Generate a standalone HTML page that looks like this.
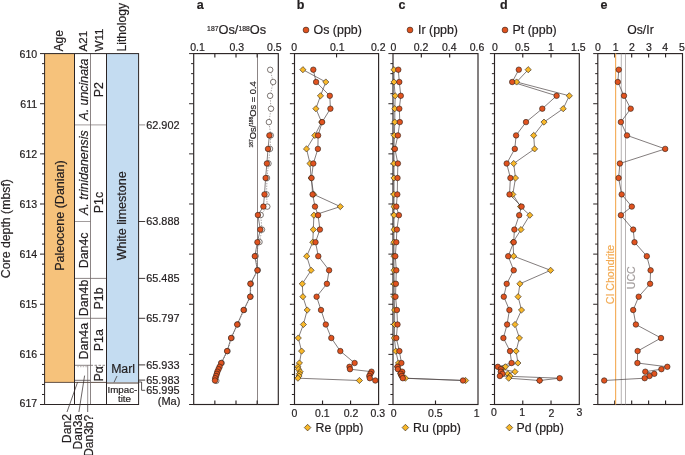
<!DOCTYPE html>
<html><head><meta charset="utf-8"><style>
html,body{margin:0;padding:0;background:#fff;}
svg{display:block;font-family:"Liberation Sans", sans-serif;will-change:transform;}
</style></head><body>
<svg width="685" height="455" viewBox="0 0 685 455">
<rect width="685" height="455" fill="#fff"/>
<rect x="44.6" y="53.6" width="29.9" height="328.79999999999995" fill="#f6c27b"/>
<rect x="106.5" y="53.6" width="32.099999999999994" height="328.79999999999995" fill="#c4dcf1"/>
<line x1="74.50" y1="124.90" x2="106.50" y2="124.90" stroke="#8a8484" stroke-width="0.8" />
<line x1="74.50" y1="221.50" x2="90.50" y2="221.50" stroke="#8a8484" stroke-width="0.8" />
<line x1="74.50" y1="278.40" x2="106.50" y2="278.40" stroke="#6e6666" stroke-width="0.8" />
<line x1="74.50" y1="318.30" x2="106.50" y2="318.30" stroke="#6e6666" stroke-width="0.8" />
<line x1="74.50" y1="365.30" x2="90.50" y2="365.30" stroke="#6e6666" stroke-width="0.8" />
<line x1="90.50" y1="365.30" x2="106.50" y2="365.30" stroke="#6e6666" stroke-width="0.8" stroke-dasharray="2.5,1.5"/>
<line x1="77.30" y1="366.70" x2="86.80" y2="366.70" stroke="#a8a2a2" stroke-width="0.8" stroke-dasharray="1.5,1.2"/>
<line x1="87.70" y1="365.30" x2="87.70" y2="404.50" stroke="#6e6666" stroke-width="0.7" />
<line x1="74.50" y1="380.30" x2="90.50" y2="380.30" stroke="#5a5050" stroke-width="0.85" />
<line x1="44.60" y1="382.40" x2="106.50" y2="382.40" stroke="#5a4a40" stroke-width="0.95" />
<line x1="106.50" y1="383.00" x2="138.60" y2="383.00" stroke="#857a74" stroke-width="1.4" />
<line x1="74.50" y1="53.60" x2="74.50" y2="404.50" stroke="#2b2424" stroke-width="1" />
<line x1="90.50" y1="53.60" x2="90.50" y2="404.50" stroke="#6e6666" stroke-width="0.8" />
<line x1="106.50" y1="53.60" x2="106.50" y2="404.50" stroke="#2b2424" stroke-width="1" />
<rect x="44.6" y="53.6" width="94.0" height="350.9" fill="none" stroke="#2b2424" stroke-width="1"/>
<line x1="84.60" y1="375.60" x2="78.90" y2="412.00" stroke="#3a3232" stroke-width="0.75" />
<line x1="77.60" y1="382.10" x2="67.00" y2="412.00" stroke="#3a3232" stroke-width="0.75" />
<line x1="87.70" y1="404.50" x2="87.70" y2="412.00" stroke="#3a3232" stroke-width="0.75" />
<line x1="114.00" y1="382.40" x2="117.00" y2="376.00" stroke="#3a3232" stroke-width="0.75" />
<line x1="40.00" y1="53.60" x2="44.60" y2="53.60" stroke="#2b2424" stroke-width="1" />
<line x1="42.00" y1="63.63" x2="44.60" y2="63.63" stroke="#2b2424" stroke-width="1" />
<line x1="42.00" y1="73.65" x2="44.60" y2="73.65" stroke="#2b2424" stroke-width="1" />
<line x1="42.00" y1="83.68" x2="44.60" y2="83.68" stroke="#2b2424" stroke-width="1" />
<line x1="42.00" y1="93.70" x2="44.60" y2="93.70" stroke="#2b2424" stroke-width="1" />
<line x1="40.00" y1="103.73" x2="44.60" y2="103.73" stroke="#2b2424" stroke-width="1" />
<line x1="42.00" y1="113.76" x2="44.60" y2="113.76" stroke="#2b2424" stroke-width="1" />
<line x1="42.00" y1="123.78" x2="44.60" y2="123.78" stroke="#2b2424" stroke-width="1" />
<line x1="42.00" y1="133.81" x2="44.60" y2="133.81" stroke="#2b2424" stroke-width="1" />
<line x1="42.00" y1="143.83" x2="44.60" y2="143.83" stroke="#2b2424" stroke-width="1" />
<line x1="40.00" y1="153.86" x2="44.60" y2="153.86" stroke="#2b2424" stroke-width="1" />
<line x1="42.00" y1="163.89" x2="44.60" y2="163.89" stroke="#2b2424" stroke-width="1" />
<line x1="42.00" y1="173.91" x2="44.60" y2="173.91" stroke="#2b2424" stroke-width="1" />
<line x1="42.00" y1="183.94" x2="44.60" y2="183.94" stroke="#2b2424" stroke-width="1" />
<line x1="42.00" y1="193.96" x2="44.60" y2="193.96" stroke="#2b2424" stroke-width="1" />
<line x1="40.00" y1="203.99" x2="44.60" y2="203.99" stroke="#2b2424" stroke-width="1" />
<line x1="42.00" y1="214.02" x2="44.60" y2="214.02" stroke="#2b2424" stroke-width="1" />
<line x1="42.00" y1="224.04" x2="44.60" y2="224.04" stroke="#2b2424" stroke-width="1" />
<line x1="42.00" y1="234.07" x2="44.60" y2="234.07" stroke="#2b2424" stroke-width="1" />
<line x1="42.00" y1="244.09" x2="44.60" y2="244.09" stroke="#2b2424" stroke-width="1" />
<line x1="40.00" y1="254.12" x2="44.60" y2="254.12" stroke="#2b2424" stroke-width="1" />
<line x1="42.00" y1="264.15" x2="44.60" y2="264.15" stroke="#2b2424" stroke-width="1" />
<line x1="42.00" y1="274.17" x2="44.60" y2="274.17" stroke="#2b2424" stroke-width="1" />
<line x1="42.00" y1="284.20" x2="44.60" y2="284.20" stroke="#2b2424" stroke-width="1" />
<line x1="42.00" y1="294.22" x2="44.60" y2="294.22" stroke="#2b2424" stroke-width="1" />
<line x1="40.00" y1="304.25" x2="44.60" y2="304.25" stroke="#2b2424" stroke-width="1" />
<line x1="42.00" y1="314.28" x2="44.60" y2="314.28" stroke="#2b2424" stroke-width="1" />
<line x1="42.00" y1="324.30" x2="44.60" y2="324.30" stroke="#2b2424" stroke-width="1" />
<line x1="42.00" y1="334.33" x2="44.60" y2="334.33" stroke="#2b2424" stroke-width="1" />
<line x1="42.00" y1="344.35" x2="44.60" y2="344.35" stroke="#2b2424" stroke-width="1" />
<line x1="40.00" y1="354.38" x2="44.60" y2="354.38" stroke="#2b2424" stroke-width="1" />
<line x1="42.00" y1="364.41" x2="44.60" y2="364.41" stroke="#2b2424" stroke-width="1" />
<line x1="42.00" y1="374.43" x2="44.60" y2="374.43" stroke="#2b2424" stroke-width="1" />
<line x1="42.00" y1="384.46" x2="44.60" y2="384.46" stroke="#2b2424" stroke-width="1" />
<line x1="42.00" y1="394.48" x2="44.60" y2="394.48" stroke="#2b2424" stroke-width="1" />
<line x1="40.00" y1="404.51" x2="44.60" y2="404.51" stroke="#2b2424" stroke-width="1" />
<text x="37.20" y="57.50" font-size="10.6" text-anchor="end" fill="#231f20" stroke="#231f20" stroke-width="0.2" font-weight="normal" font-style="normal" >610</text>
<text x="37.20" y="107.63" font-size="10.6" text-anchor="end" fill="#231f20" stroke="#231f20" stroke-width="0.2" font-weight="normal" font-style="normal" >611</text>
<text x="37.20" y="157.76" font-size="10.6" text-anchor="end" fill="#231f20" stroke="#231f20" stroke-width="0.2" font-weight="normal" font-style="normal" >612</text>
<text x="37.20" y="207.89" font-size="10.6" text-anchor="end" fill="#231f20" stroke="#231f20" stroke-width="0.2" font-weight="normal" font-style="normal" >613</text>
<text x="37.20" y="258.02" font-size="10.6" text-anchor="end" fill="#231f20" stroke="#231f20" stroke-width="0.2" font-weight="normal" font-style="normal" >614</text>
<text x="37.20" y="308.15" font-size="10.6" text-anchor="end" fill="#231f20" stroke="#231f20" stroke-width="0.2" font-weight="normal" font-style="normal" >615</text>
<text x="37.20" y="358.28" font-size="10.6" text-anchor="end" fill="#231f20" stroke="#231f20" stroke-width="0.2" font-weight="normal" font-style="normal" >616</text>
<text x="37.20" y="406.71" font-size="10.6" text-anchor="end" fill="#231f20" stroke="#231f20" stroke-width="0.2" font-weight="normal" font-style="normal" >617</text>
<text transform="translate(10.40,228.60) rotate(-90)" font-size="12.3" text-anchor="middle" fill="#231f20" stroke="#231f20" stroke-width="0.2" font-weight="normal" font-style="normal" >Core depth (mbsf)</text>
<text transform="translate(63.00,51.50) rotate(-90)" font-size="12.0" text-anchor="start" fill="#231f20" stroke="#231f20" stroke-width="0.2" font-weight="normal" font-style="normal" >Age</text>
<text transform="translate(87.30,51.50) rotate(-90)" font-size="11.6" text-anchor="start" fill="#231f20" stroke="#231f20" stroke-width="0.2" font-weight="normal" font-style="normal" >A21</text>
<text transform="translate(103.10,51.50) rotate(-90)" font-size="11.6" text-anchor="start" fill="#231f20" stroke="#231f20" stroke-width="0.2" font-weight="normal" font-style="normal" >W11</text>
<text transform="translate(126.00,51.40) rotate(-90)" font-size="12.1" text-anchor="start" fill="#231f20" stroke="#231f20" stroke-width="0.2" font-weight="normal" font-style="normal" >Lithology</text>
<text transform="translate(64.00,215.60) rotate(-90)" font-size="12.5" text-anchor="middle" fill="#231f20" stroke="#231f20" stroke-width="0.2" font-weight="normal" font-style="normal" >Paleocene (Danian)</text>
<text transform="translate(88.00,89.60) rotate(-90)" font-size="12.4" text-anchor="middle" fill="#231f20" stroke="#231f20" stroke-width="0.2" font-weight="normal" font-style="italic" >A. uncinata</text>
<text transform="translate(88.00,172.60) rotate(-90)" font-size="12.4" text-anchor="middle" fill="#231f20" stroke="#231f20" stroke-width="0.2" font-weight="normal" font-style="italic" >A. trinidanensis</text>
<text transform="translate(88.00,250.40) rotate(-90)" font-size="12.4" text-anchor="middle" fill="#231f20" stroke="#231f20" stroke-width="0.2" font-weight="normal" font-style="normal" >Dan4c</text>
<text transform="translate(88.00,297.90) rotate(-90)" font-size="12.4" text-anchor="middle" fill="#231f20" stroke="#231f20" stroke-width="0.2" font-weight="normal" font-style="normal" >Dan4b</text>
<text transform="translate(88.00,341.20) rotate(-90)" font-size="12.4" text-anchor="middle" fill="#231f20" stroke="#231f20" stroke-width="0.2" font-weight="normal" font-style="normal" >Dan4a</text>
<text transform="translate(103.40,89.60) rotate(-90)" font-size="12.4" text-anchor="middle" fill="#231f20" stroke="#231f20" stroke-width="0.2" font-weight="normal" font-style="normal" >P2</text>
<text transform="translate(103.40,202.60) rotate(-90)" font-size="12.4" text-anchor="middle" fill="#231f20" stroke="#231f20" stroke-width="0.2" font-weight="normal" font-style="normal" >P1c</text>
<text transform="translate(103.40,298.50) rotate(-90)" font-size="12.4" text-anchor="middle" fill="#231f20" stroke="#231f20" stroke-width="0.2" font-weight="normal" font-style="normal" >P1b</text>
<text transform="translate(103.40,340.20) rotate(-90)" font-size="12.4" text-anchor="middle" fill="#231f20" stroke="#231f20" stroke-width="0.2" font-weight="normal" font-style="normal" >P1a</text>
<text transform="translate(103.40,373.70) rotate(-90)" font-size="12.4" text-anchor="middle" fill="#231f20" stroke="#231f20" stroke-width="0.2" font-weight="normal" font-style="normal" >P&#945;</text>
<text transform="translate(126.20,215.80) rotate(-90)" font-size="12.5" text-anchor="middle" fill="#231f20" stroke="#231f20" stroke-width="0.2" font-weight="normal" font-style="normal" >White limestone</text>
<text x="123.10" y="373.40" font-size="12.3" text-anchor="middle" fill="#231f20" stroke="#231f20" stroke-width="0.2" font-weight="normal" font-style="normal" >Marl</text>
<text x="122.40" y="392.80" font-size="9.8" text-anchor="middle" fill="#231f20" stroke="#231f20" stroke-width="0.2" font-weight="normal" font-style="normal" >Impac-</text>
<text x="124.50" y="402.20" font-size="9.8" text-anchor="middle" fill="#231f20" stroke="#231f20" stroke-width="0.2" font-weight="normal" font-style="normal" >tite</text>
<text transform="translate(71.00,414.00) rotate(-90)" font-size="12.2" text-anchor="end" fill="#231f20" stroke="#231f20" stroke-width="0.2" font-weight="normal" font-style="normal" >Dan2</text>
<text transform="translate(81.80,414.00) rotate(-90)" font-size="12.0" text-anchor="end" fill="#231f20" stroke="#231f20" stroke-width="0.2" font-weight="normal" font-style="normal" >Dan3a</text>
<text transform="translate(93.00,414.80) rotate(-90)" font-size="12.0" text-anchor="end" fill="#231f20" stroke="#231f20" stroke-width="0.2" font-weight="normal" font-style="normal" >Dan3b?</text>
<line x1="138.60" y1="124.90" x2="145.20" y2="124.90" stroke="#8a8484" stroke-width="0.9" />
<text x="146.20" y="128.70" font-size="10.9" text-anchor="start" fill="#231f20" stroke="#231f20" stroke-width="0.2" font-weight="normal" font-style="normal" >62.902</text>
<line x1="138.60" y1="221.50" x2="145.20" y2="221.50" stroke="#2b2424" stroke-width="0.9" />
<text x="146.20" y="225.30" font-size="10.9" text-anchor="start" fill="#231f20" stroke="#231f20" stroke-width="0.2" font-weight="normal" font-style="normal" >63.888</text>
<line x1="138.60" y1="278.40" x2="145.20" y2="278.40" stroke="#2b2424" stroke-width="0.9" />
<text x="146.20" y="282.20" font-size="10.9" text-anchor="start" fill="#231f20" stroke="#231f20" stroke-width="0.2" font-weight="normal" font-style="normal" >65.485</text>
<line x1="138.60" y1="318.30" x2="145.20" y2="318.30" stroke="#2b2424" stroke-width="0.9" />
<text x="146.20" y="322.10" font-size="10.9" text-anchor="start" fill="#231f20" stroke="#231f20" stroke-width="0.2" font-weight="normal" font-style="normal" >65.797</text>
<line x1="138.60" y1="364.90" x2="145.20" y2="364.90" stroke="#2b2424" stroke-width="0.9" />
<text x="146.20" y="368.70" font-size="10.9" text-anchor="start" fill="#231f20" stroke="#231f20" stroke-width="0.2" font-weight="normal" font-style="normal" >65.933</text>
<line x1="138.60" y1="380.10" x2="145.20" y2="380.10" stroke="#2b2424" stroke-width="0.9" />
<text x="146.20" y="383.90" font-size="10.9" text-anchor="start" fill="#231f20" stroke="#231f20" stroke-width="0.2" font-weight="normal" font-style="normal" >65.983</text>
<polyline points="138.6,382.0 141.6,382.0 141.6,390.3 145.2,390.3" fill="none" stroke="#2b2424" stroke-width="0.8"/>
<text x="146.20" y="394.10" font-size="10.9" text-anchor="start" fill="#231f20" stroke="#231f20" stroke-width="0.2" font-weight="normal" font-style="normal" >65.995</text>
<text x="180.40" y="405.20" font-size="11.0" text-anchor="end" fill="#231f20" stroke="#231f20" stroke-width="0.2" font-weight="normal" font-style="normal" >(Ma)</text>
<line x1="189.10" y1="53.60" x2="193.70" y2="53.60" stroke="#2b2424" stroke-width="1" />
<line x1="191.10" y1="63.63" x2="193.70" y2="63.63" stroke="#2b2424" stroke-width="1" />
<line x1="191.10" y1="73.65" x2="193.70" y2="73.65" stroke="#2b2424" stroke-width="1" />
<line x1="191.10" y1="83.68" x2="193.70" y2="83.68" stroke="#2b2424" stroke-width="1" />
<line x1="191.10" y1="93.70" x2="193.70" y2="93.70" stroke="#2b2424" stroke-width="1" />
<line x1="189.10" y1="103.73" x2="193.70" y2="103.73" stroke="#2b2424" stroke-width="1" />
<line x1="191.10" y1="113.76" x2="193.70" y2="113.76" stroke="#2b2424" stroke-width="1" />
<line x1="191.10" y1="123.78" x2="193.70" y2="123.78" stroke="#2b2424" stroke-width="1" />
<line x1="191.10" y1="133.81" x2="193.70" y2="133.81" stroke="#2b2424" stroke-width="1" />
<line x1="191.10" y1="143.83" x2="193.70" y2="143.83" stroke="#2b2424" stroke-width="1" />
<line x1="189.10" y1="153.86" x2="193.70" y2="153.86" stroke="#2b2424" stroke-width="1" />
<line x1="191.10" y1="163.89" x2="193.70" y2="163.89" stroke="#2b2424" stroke-width="1" />
<line x1="191.10" y1="173.91" x2="193.70" y2="173.91" stroke="#2b2424" stroke-width="1" />
<line x1="191.10" y1="183.94" x2="193.70" y2="183.94" stroke="#2b2424" stroke-width="1" />
<line x1="191.10" y1="193.96" x2="193.70" y2="193.96" stroke="#2b2424" stroke-width="1" />
<line x1="189.10" y1="203.99" x2="193.70" y2="203.99" stroke="#2b2424" stroke-width="1" />
<line x1="191.10" y1="214.02" x2="193.70" y2="214.02" stroke="#2b2424" stroke-width="1" />
<line x1="191.10" y1="224.04" x2="193.70" y2="224.04" stroke="#2b2424" stroke-width="1" />
<line x1="191.10" y1="234.07" x2="193.70" y2="234.07" stroke="#2b2424" stroke-width="1" />
<line x1="191.10" y1="244.09" x2="193.70" y2="244.09" stroke="#2b2424" stroke-width="1" />
<line x1="189.10" y1="254.12" x2="193.70" y2="254.12" stroke="#2b2424" stroke-width="1" />
<line x1="191.10" y1="264.15" x2="193.70" y2="264.15" stroke="#2b2424" stroke-width="1" />
<line x1="191.10" y1="274.17" x2="193.70" y2="274.17" stroke="#2b2424" stroke-width="1" />
<line x1="191.10" y1="284.20" x2="193.70" y2="284.20" stroke="#2b2424" stroke-width="1" />
<line x1="191.10" y1="294.22" x2="193.70" y2="294.22" stroke="#2b2424" stroke-width="1" />
<line x1="189.10" y1="304.25" x2="193.70" y2="304.25" stroke="#2b2424" stroke-width="1" />
<line x1="191.10" y1="314.28" x2="193.70" y2="314.28" stroke="#2b2424" stroke-width="1" />
<line x1="191.10" y1="324.30" x2="193.70" y2="324.30" stroke="#2b2424" stroke-width="1" />
<line x1="191.10" y1="334.33" x2="193.70" y2="334.33" stroke="#2b2424" stroke-width="1" />
<line x1="191.10" y1="344.35" x2="193.70" y2="344.35" stroke="#2b2424" stroke-width="1" />
<line x1="189.10" y1="354.38" x2="193.70" y2="354.38" stroke="#2b2424" stroke-width="1" />
<line x1="191.10" y1="364.41" x2="193.70" y2="364.41" stroke="#2b2424" stroke-width="1" />
<line x1="191.10" y1="374.43" x2="193.70" y2="374.43" stroke="#2b2424" stroke-width="1" />
<line x1="191.10" y1="384.46" x2="193.70" y2="384.46" stroke="#2b2424" stroke-width="1" />
<line x1="191.10" y1="394.48" x2="193.70" y2="394.48" stroke="#2b2424" stroke-width="1" />
<line x1="189.10" y1="404.51" x2="193.70" y2="404.51" stroke="#2b2424" stroke-width="1" />
<line x1="289.90" y1="53.60" x2="294.50" y2="53.60" stroke="#2b2424" stroke-width="1" />
<line x1="291.90" y1="63.63" x2="294.50" y2="63.63" stroke="#2b2424" stroke-width="1" />
<line x1="291.90" y1="73.65" x2="294.50" y2="73.65" stroke="#2b2424" stroke-width="1" />
<line x1="291.90" y1="83.68" x2="294.50" y2="83.68" stroke="#2b2424" stroke-width="1" />
<line x1="291.90" y1="93.70" x2="294.50" y2="93.70" stroke="#2b2424" stroke-width="1" />
<line x1="289.90" y1="103.73" x2="294.50" y2="103.73" stroke="#2b2424" stroke-width="1" />
<line x1="291.90" y1="113.76" x2="294.50" y2="113.76" stroke="#2b2424" stroke-width="1" />
<line x1="291.90" y1="123.78" x2="294.50" y2="123.78" stroke="#2b2424" stroke-width="1" />
<line x1="291.90" y1="133.81" x2="294.50" y2="133.81" stroke="#2b2424" stroke-width="1" />
<line x1="291.90" y1="143.83" x2="294.50" y2="143.83" stroke="#2b2424" stroke-width="1" />
<line x1="289.90" y1="153.86" x2="294.50" y2="153.86" stroke="#2b2424" stroke-width="1" />
<line x1="291.90" y1="163.89" x2="294.50" y2="163.89" stroke="#2b2424" stroke-width="1" />
<line x1="291.90" y1="173.91" x2="294.50" y2="173.91" stroke="#2b2424" stroke-width="1" />
<line x1="291.90" y1="183.94" x2="294.50" y2="183.94" stroke="#2b2424" stroke-width="1" />
<line x1="291.90" y1="193.96" x2="294.50" y2="193.96" stroke="#2b2424" stroke-width="1" />
<line x1="289.90" y1="203.99" x2="294.50" y2="203.99" stroke="#2b2424" stroke-width="1" />
<line x1="291.90" y1="214.02" x2="294.50" y2="214.02" stroke="#2b2424" stroke-width="1" />
<line x1="291.90" y1="224.04" x2="294.50" y2="224.04" stroke="#2b2424" stroke-width="1" />
<line x1="291.90" y1="234.07" x2="294.50" y2="234.07" stroke="#2b2424" stroke-width="1" />
<line x1="291.90" y1="244.09" x2="294.50" y2="244.09" stroke="#2b2424" stroke-width="1" />
<line x1="289.90" y1="254.12" x2="294.50" y2="254.12" stroke="#2b2424" stroke-width="1" />
<line x1="291.90" y1="264.15" x2="294.50" y2="264.15" stroke="#2b2424" stroke-width="1" />
<line x1="291.90" y1="274.17" x2="294.50" y2="274.17" stroke="#2b2424" stroke-width="1" />
<line x1="291.90" y1="284.20" x2="294.50" y2="284.20" stroke="#2b2424" stroke-width="1" />
<line x1="291.90" y1="294.22" x2="294.50" y2="294.22" stroke="#2b2424" stroke-width="1" />
<line x1="289.90" y1="304.25" x2="294.50" y2="304.25" stroke="#2b2424" stroke-width="1" />
<line x1="291.90" y1="314.28" x2="294.50" y2="314.28" stroke="#2b2424" stroke-width="1" />
<line x1="291.90" y1="324.30" x2="294.50" y2="324.30" stroke="#2b2424" stroke-width="1" />
<line x1="291.90" y1="334.33" x2="294.50" y2="334.33" stroke="#2b2424" stroke-width="1" />
<line x1="291.90" y1="344.35" x2="294.50" y2="344.35" stroke="#2b2424" stroke-width="1" />
<line x1="289.90" y1="354.38" x2="294.50" y2="354.38" stroke="#2b2424" stroke-width="1" />
<line x1="291.90" y1="364.41" x2="294.50" y2="364.41" stroke="#2b2424" stroke-width="1" />
<line x1="291.90" y1="374.43" x2="294.50" y2="374.43" stroke="#2b2424" stroke-width="1" />
<line x1="291.90" y1="384.46" x2="294.50" y2="384.46" stroke="#2b2424" stroke-width="1" />
<line x1="291.90" y1="394.48" x2="294.50" y2="394.48" stroke="#2b2424" stroke-width="1" />
<line x1="289.90" y1="404.51" x2="294.50" y2="404.51" stroke="#2b2424" stroke-width="1" />
<line x1="388.40" y1="53.60" x2="393.00" y2="53.60" stroke="#2b2424" stroke-width="1" />
<line x1="390.40" y1="63.63" x2="393.00" y2="63.63" stroke="#2b2424" stroke-width="1" />
<line x1="390.40" y1="73.65" x2="393.00" y2="73.65" stroke="#2b2424" stroke-width="1" />
<line x1="390.40" y1="83.68" x2="393.00" y2="83.68" stroke="#2b2424" stroke-width="1" />
<line x1="390.40" y1="93.70" x2="393.00" y2="93.70" stroke="#2b2424" stroke-width="1" />
<line x1="388.40" y1="103.73" x2="393.00" y2="103.73" stroke="#2b2424" stroke-width="1" />
<line x1="390.40" y1="113.76" x2="393.00" y2="113.76" stroke="#2b2424" stroke-width="1" />
<line x1="390.40" y1="123.78" x2="393.00" y2="123.78" stroke="#2b2424" stroke-width="1" />
<line x1="390.40" y1="133.81" x2="393.00" y2="133.81" stroke="#2b2424" stroke-width="1" />
<line x1="390.40" y1="143.83" x2="393.00" y2="143.83" stroke="#2b2424" stroke-width="1" />
<line x1="388.40" y1="153.86" x2="393.00" y2="153.86" stroke="#2b2424" stroke-width="1" />
<line x1="390.40" y1="163.89" x2="393.00" y2="163.89" stroke="#2b2424" stroke-width="1" />
<line x1="390.40" y1="173.91" x2="393.00" y2="173.91" stroke="#2b2424" stroke-width="1" />
<line x1="390.40" y1="183.94" x2="393.00" y2="183.94" stroke="#2b2424" stroke-width="1" />
<line x1="390.40" y1="193.96" x2="393.00" y2="193.96" stroke="#2b2424" stroke-width="1" />
<line x1="388.40" y1="203.99" x2="393.00" y2="203.99" stroke="#2b2424" stroke-width="1" />
<line x1="390.40" y1="214.02" x2="393.00" y2="214.02" stroke="#2b2424" stroke-width="1" />
<line x1="390.40" y1="224.04" x2="393.00" y2="224.04" stroke="#2b2424" stroke-width="1" />
<line x1="390.40" y1="234.07" x2="393.00" y2="234.07" stroke="#2b2424" stroke-width="1" />
<line x1="390.40" y1="244.09" x2="393.00" y2="244.09" stroke="#2b2424" stroke-width="1" />
<line x1="388.40" y1="254.12" x2="393.00" y2="254.12" stroke="#2b2424" stroke-width="1" />
<line x1="390.40" y1="264.15" x2="393.00" y2="264.15" stroke="#2b2424" stroke-width="1" />
<line x1="390.40" y1="274.17" x2="393.00" y2="274.17" stroke="#2b2424" stroke-width="1" />
<line x1="390.40" y1="284.20" x2="393.00" y2="284.20" stroke="#2b2424" stroke-width="1" />
<line x1="390.40" y1="294.22" x2="393.00" y2="294.22" stroke="#2b2424" stroke-width="1" />
<line x1="388.40" y1="304.25" x2="393.00" y2="304.25" stroke="#2b2424" stroke-width="1" />
<line x1="390.40" y1="314.28" x2="393.00" y2="314.28" stroke="#2b2424" stroke-width="1" />
<line x1="390.40" y1="324.30" x2="393.00" y2="324.30" stroke="#2b2424" stroke-width="1" />
<line x1="390.40" y1="334.33" x2="393.00" y2="334.33" stroke="#2b2424" stroke-width="1" />
<line x1="390.40" y1="344.35" x2="393.00" y2="344.35" stroke="#2b2424" stroke-width="1" />
<line x1="388.40" y1="354.38" x2="393.00" y2="354.38" stroke="#2b2424" stroke-width="1" />
<line x1="390.40" y1="364.41" x2="393.00" y2="364.41" stroke="#2b2424" stroke-width="1" />
<line x1="390.40" y1="374.43" x2="393.00" y2="374.43" stroke="#2b2424" stroke-width="1" />
<line x1="390.40" y1="384.46" x2="393.00" y2="384.46" stroke="#2b2424" stroke-width="1" />
<line x1="390.40" y1="394.48" x2="393.00" y2="394.48" stroke="#2b2424" stroke-width="1" />
<line x1="388.40" y1="404.51" x2="393.00" y2="404.51" stroke="#2b2424" stroke-width="1" />
<line x1="489.90" y1="53.60" x2="494.50" y2="53.60" stroke="#2b2424" stroke-width="1" />
<line x1="491.90" y1="63.63" x2="494.50" y2="63.63" stroke="#2b2424" stroke-width="1" />
<line x1="491.90" y1="73.65" x2="494.50" y2="73.65" stroke="#2b2424" stroke-width="1" />
<line x1="491.90" y1="83.68" x2="494.50" y2="83.68" stroke="#2b2424" stroke-width="1" />
<line x1="491.90" y1="93.70" x2="494.50" y2="93.70" stroke="#2b2424" stroke-width="1" />
<line x1="489.90" y1="103.73" x2="494.50" y2="103.73" stroke="#2b2424" stroke-width="1" />
<line x1="491.90" y1="113.76" x2="494.50" y2="113.76" stroke="#2b2424" stroke-width="1" />
<line x1="491.90" y1="123.78" x2="494.50" y2="123.78" stroke="#2b2424" stroke-width="1" />
<line x1="491.90" y1="133.81" x2="494.50" y2="133.81" stroke="#2b2424" stroke-width="1" />
<line x1="491.90" y1="143.83" x2="494.50" y2="143.83" stroke="#2b2424" stroke-width="1" />
<line x1="489.90" y1="153.86" x2="494.50" y2="153.86" stroke="#2b2424" stroke-width="1" />
<line x1="491.90" y1="163.89" x2="494.50" y2="163.89" stroke="#2b2424" stroke-width="1" />
<line x1="491.90" y1="173.91" x2="494.50" y2="173.91" stroke="#2b2424" stroke-width="1" />
<line x1="491.90" y1="183.94" x2="494.50" y2="183.94" stroke="#2b2424" stroke-width="1" />
<line x1="491.90" y1="193.96" x2="494.50" y2="193.96" stroke="#2b2424" stroke-width="1" />
<line x1="489.90" y1="203.99" x2="494.50" y2="203.99" stroke="#2b2424" stroke-width="1" />
<line x1="491.90" y1="214.02" x2="494.50" y2="214.02" stroke="#2b2424" stroke-width="1" />
<line x1="491.90" y1="224.04" x2="494.50" y2="224.04" stroke="#2b2424" stroke-width="1" />
<line x1="491.90" y1="234.07" x2="494.50" y2="234.07" stroke="#2b2424" stroke-width="1" />
<line x1="491.90" y1="244.09" x2="494.50" y2="244.09" stroke="#2b2424" stroke-width="1" />
<line x1="489.90" y1="254.12" x2="494.50" y2="254.12" stroke="#2b2424" stroke-width="1" />
<line x1="491.90" y1="264.15" x2="494.50" y2="264.15" stroke="#2b2424" stroke-width="1" />
<line x1="491.90" y1="274.17" x2="494.50" y2="274.17" stroke="#2b2424" stroke-width="1" />
<line x1="491.90" y1="284.20" x2="494.50" y2="284.20" stroke="#2b2424" stroke-width="1" />
<line x1="491.90" y1="294.22" x2="494.50" y2="294.22" stroke="#2b2424" stroke-width="1" />
<line x1="489.90" y1="304.25" x2="494.50" y2="304.25" stroke="#2b2424" stroke-width="1" />
<line x1="491.90" y1="314.28" x2="494.50" y2="314.28" stroke="#2b2424" stroke-width="1" />
<line x1="491.90" y1="324.30" x2="494.50" y2="324.30" stroke="#2b2424" stroke-width="1" />
<line x1="491.90" y1="334.33" x2="494.50" y2="334.33" stroke="#2b2424" stroke-width="1" />
<line x1="491.90" y1="344.35" x2="494.50" y2="344.35" stroke="#2b2424" stroke-width="1" />
<line x1="489.90" y1="354.38" x2="494.50" y2="354.38" stroke="#2b2424" stroke-width="1" />
<line x1="491.90" y1="364.41" x2="494.50" y2="364.41" stroke="#2b2424" stroke-width="1" />
<line x1="491.90" y1="374.43" x2="494.50" y2="374.43" stroke="#2b2424" stroke-width="1" />
<line x1="491.90" y1="384.46" x2="494.50" y2="384.46" stroke="#2b2424" stroke-width="1" />
<line x1="491.90" y1="394.48" x2="494.50" y2="394.48" stroke="#2b2424" stroke-width="1" />
<line x1="489.90" y1="404.51" x2="494.50" y2="404.51" stroke="#2b2424" stroke-width="1" />
<line x1="593.20" y1="53.60" x2="597.80" y2="53.60" stroke="#2b2424" stroke-width="1" />
<line x1="595.20" y1="63.63" x2="597.80" y2="63.63" stroke="#2b2424" stroke-width="1" />
<line x1="595.20" y1="73.65" x2="597.80" y2="73.65" stroke="#2b2424" stroke-width="1" />
<line x1="595.20" y1="83.68" x2="597.80" y2="83.68" stroke="#2b2424" stroke-width="1" />
<line x1="595.20" y1="93.70" x2="597.80" y2="93.70" stroke="#2b2424" stroke-width="1" />
<line x1="593.20" y1="103.73" x2="597.80" y2="103.73" stroke="#2b2424" stroke-width="1" />
<line x1="595.20" y1="113.76" x2="597.80" y2="113.76" stroke="#2b2424" stroke-width="1" />
<line x1="595.20" y1="123.78" x2="597.80" y2="123.78" stroke="#2b2424" stroke-width="1" />
<line x1="595.20" y1="133.81" x2="597.80" y2="133.81" stroke="#2b2424" stroke-width="1" />
<line x1="595.20" y1="143.83" x2="597.80" y2="143.83" stroke="#2b2424" stroke-width="1" />
<line x1="593.20" y1="153.86" x2="597.80" y2="153.86" stroke="#2b2424" stroke-width="1" />
<line x1="595.20" y1="163.89" x2="597.80" y2="163.89" stroke="#2b2424" stroke-width="1" />
<line x1="595.20" y1="173.91" x2="597.80" y2="173.91" stroke="#2b2424" stroke-width="1" />
<line x1="595.20" y1="183.94" x2="597.80" y2="183.94" stroke="#2b2424" stroke-width="1" />
<line x1="595.20" y1="193.96" x2="597.80" y2="193.96" stroke="#2b2424" stroke-width="1" />
<line x1="593.20" y1="203.99" x2="597.80" y2="203.99" stroke="#2b2424" stroke-width="1" />
<line x1="595.20" y1="214.02" x2="597.80" y2="214.02" stroke="#2b2424" stroke-width="1" />
<line x1="595.20" y1="224.04" x2="597.80" y2="224.04" stroke="#2b2424" stroke-width="1" />
<line x1="595.20" y1="234.07" x2="597.80" y2="234.07" stroke="#2b2424" stroke-width="1" />
<line x1="595.20" y1="244.09" x2="597.80" y2="244.09" stroke="#2b2424" stroke-width="1" />
<line x1="593.20" y1="254.12" x2="597.80" y2="254.12" stroke="#2b2424" stroke-width="1" />
<line x1="595.20" y1="264.15" x2="597.80" y2="264.15" stroke="#2b2424" stroke-width="1" />
<line x1="595.20" y1="274.17" x2="597.80" y2="274.17" stroke="#2b2424" stroke-width="1" />
<line x1="595.20" y1="284.20" x2="597.80" y2="284.20" stroke="#2b2424" stroke-width="1" />
<line x1="595.20" y1="294.22" x2="597.80" y2="294.22" stroke="#2b2424" stroke-width="1" />
<line x1="593.20" y1="304.25" x2="597.80" y2="304.25" stroke="#2b2424" stroke-width="1" />
<line x1="595.20" y1="314.28" x2="597.80" y2="314.28" stroke="#2b2424" stroke-width="1" />
<line x1="595.20" y1="324.30" x2="597.80" y2="324.30" stroke="#2b2424" stroke-width="1" />
<line x1="595.20" y1="334.33" x2="597.80" y2="334.33" stroke="#2b2424" stroke-width="1" />
<line x1="595.20" y1="344.35" x2="597.80" y2="344.35" stroke="#2b2424" stroke-width="1" />
<line x1="593.20" y1="354.38" x2="597.80" y2="354.38" stroke="#2b2424" stroke-width="1" />
<line x1="595.20" y1="364.41" x2="597.80" y2="364.41" stroke="#2b2424" stroke-width="1" />
<line x1="595.20" y1="374.43" x2="597.80" y2="374.43" stroke="#2b2424" stroke-width="1" />
<line x1="595.20" y1="384.46" x2="597.80" y2="384.46" stroke="#2b2424" stroke-width="1" />
<line x1="595.20" y1="394.48" x2="597.80" y2="394.48" stroke="#2b2424" stroke-width="1" />
<line x1="593.20" y1="404.51" x2="597.80" y2="404.51" stroke="#2b2424" stroke-width="1" />
<rect x="193.7" y="53.6" width="84.60" height="350.90" fill="none" stroke="#2b2424" stroke-width="1.15"/>
<rect x="294.5" y="53.6" width="84.10" height="350.90" fill="none" stroke="#2b2424" stroke-width="1.15"/>
<rect x="393.0" y="53.6" width="85.00" height="350.90" fill="none" stroke="#2b2424" stroke-width="1.15"/>
<rect x="494.5" y="53.6" width="84.80" height="350.90" fill="none" stroke="#2b2424" stroke-width="1.15"/>
<rect x="597.8" y="53.6" width="84.70" height="350.90" fill="none" stroke="#2b2424" stroke-width="1.15"/>
<line x1="257.50" y1="53.60" x2="257.50" y2="404.50" stroke="#6e6666" stroke-width="0.8" />
<line x1="214.85" y1="53.60" x2="214.85" y2="57.40" stroke="#2b2424" stroke-width="1.15" />
<line x1="214.85" y1="404.50" x2="214.85" y2="400.50" stroke="#2b2424" stroke-width="1.15" />
<line x1="236.00" y1="53.60" x2="236.00" y2="57.40" stroke="#2b2424" stroke-width="1.15" />
<line x1="236.00" y1="404.50" x2="236.00" y2="400.50" stroke="#2b2424" stroke-width="1.15" />
<line x1="257.15" y1="53.60" x2="257.15" y2="57.40" stroke="#2b2424" stroke-width="1.15" />
<line x1="257.15" y1="404.50" x2="257.15" y2="400.50" stroke="#2b2424" stroke-width="1.15" />
<polyline points="270.20,69.80 273.20,82.00 270.10,95.80 271.00,108.70 268.90,122.10 270.80,135.40 270.00,148.90 268.50,163.50 267.00,178.00 266.50,194.40 267.30,206.60 260.70,215.00 262.00,229.60 259.50,242.00 255.60,256.00 257.80,270.20 250.80,283.70 250.50,296.70 244.00,310.00 237.60,324.40 231.50,338.00 227.50,351.10 221.60,363.00 216.30,380.80" fill="none" stroke="#6a6262" stroke-width="0.6" stroke-dasharray="1.3,1.3"/>
<circle cx="270.20" cy="69.80" r="2.75" fill="#ffffff" stroke="#2a1f1a" stroke-width="0.6"/>
<circle cx="273.20" cy="82.00" r="2.75" fill="#ffffff" stroke="#2a1f1a" stroke-width="0.6"/>
<circle cx="270.10" cy="95.80" r="2.75" fill="#ffffff" stroke="#2a1f1a" stroke-width="0.6"/>
<circle cx="271.00" cy="108.70" r="2.75" fill="#ffffff" stroke="#2a1f1a" stroke-width="0.6"/>
<circle cx="268.90" cy="122.10" r="2.75" fill="#ffffff" stroke="#2a1f1a" stroke-width="0.6"/>
<circle cx="270.80" cy="135.40" r="2.75" fill="#ffffff" stroke="#2a1f1a" stroke-width="0.6"/>
<circle cx="270.00" cy="148.90" r="2.75" fill="#ffffff" stroke="#2a1f1a" stroke-width="0.6"/>
<circle cx="268.50" cy="163.50" r="2.75" fill="#ffffff" stroke="#2a1f1a" stroke-width="0.6"/>
<circle cx="267.00" cy="178.00" r="2.75" fill="#ffffff" stroke="#2a1f1a" stroke-width="0.6"/>
<circle cx="266.50" cy="194.40" r="2.75" fill="#ffffff" stroke="#2a1f1a" stroke-width="0.6"/>
<circle cx="267.30" cy="206.60" r="2.75" fill="#ffffff" stroke="#2a1f1a" stroke-width="0.6"/>
<circle cx="260.70" cy="215.00" r="2.75" fill="#ffffff" stroke="#2a1f1a" stroke-width="0.6"/>
<circle cx="262.00" cy="229.60" r="2.75" fill="#ffffff" stroke="#2a1f1a" stroke-width="0.6"/>
<circle cx="259.50" cy="242.00" r="2.75" fill="#ffffff" stroke="#2a1f1a" stroke-width="0.6"/>
<circle cx="255.60" cy="256.00" r="2.75" fill="#ffffff" stroke="#2a1f1a" stroke-width="0.6"/>
<circle cx="257.80" cy="270.20" r="2.75" fill="#ffffff" stroke="#2a1f1a" stroke-width="0.6"/>
<circle cx="250.80" cy="283.70" r="2.75" fill="#ffffff" stroke="#2a1f1a" stroke-width="0.6"/>
<circle cx="250.50" cy="296.70" r="2.75" fill="#ffffff" stroke="#2a1f1a" stroke-width="0.6"/>
<circle cx="244.00" cy="310.00" r="2.75" fill="#ffffff" stroke="#2a1f1a" stroke-width="0.6"/>
<circle cx="237.60" cy="324.40" r="2.75" fill="#ffffff" stroke="#2a1f1a" stroke-width="0.6"/>
<circle cx="231.50" cy="338.00" r="2.75" fill="#ffffff" stroke="#2a1f1a" stroke-width="0.6"/>
<circle cx="227.50" cy="351.10" r="2.75" fill="#ffffff" stroke="#2a1f1a" stroke-width="0.6"/>
<circle cx="221.60" cy="363.00" r="2.75" fill="#ffffff" stroke="#2a1f1a" stroke-width="0.6"/>
<circle cx="216.30" cy="380.80" r="2.75" fill="#ffffff" stroke="#2a1f1a" stroke-width="0.6"/>
<polyline points="269.40,135.40 268.00,148.90 266.90,163.50 265.60,178.00 264.50,194.40 263.40,206.60 257.90,215.00 260.30,229.60 257.40,242.20 254.80,256.20 257.40,270.30 250.40,283.80 250.20,296.70 243.60,310.00 237.20,324.50 231.10,338.00 227.10,351.10 221.20,363.00 219.60,366.80 218.50,369.20 217.40,371.70 216.80,373.80 216.10,376.00 215.20,378.20 215.00,380.50" fill="none" stroke="#4d4545" stroke-width="0.7" />
<circle cx="269.40" cy="135.40" r="2.75" fill="#e0531f" stroke="#2a1f1a" stroke-width="0.6"/>
<circle cx="268.00" cy="148.90" r="2.75" fill="#e0531f" stroke="#2a1f1a" stroke-width="0.6"/>
<circle cx="266.90" cy="163.50" r="2.75" fill="#e0531f" stroke="#2a1f1a" stroke-width="0.6"/>
<circle cx="265.60" cy="178.00" r="2.75" fill="#e0531f" stroke="#2a1f1a" stroke-width="0.6"/>
<circle cx="264.50" cy="194.40" r="2.75" fill="#e0531f" stroke="#2a1f1a" stroke-width="0.6"/>
<circle cx="263.40" cy="206.60" r="2.75" fill="#e0531f" stroke="#2a1f1a" stroke-width="0.6"/>
<circle cx="257.90" cy="215.00" r="2.75" fill="#e0531f" stroke="#2a1f1a" stroke-width="0.6"/>
<circle cx="260.30" cy="229.60" r="2.75" fill="#e0531f" stroke="#2a1f1a" stroke-width="0.6"/>
<circle cx="257.40" cy="242.20" r="2.75" fill="#e0531f" stroke="#2a1f1a" stroke-width="0.6"/>
<circle cx="254.80" cy="256.20" r="2.75" fill="#e0531f" stroke="#2a1f1a" stroke-width="0.6"/>
<circle cx="257.40" cy="270.30" r="2.75" fill="#e0531f" stroke="#2a1f1a" stroke-width="0.6"/>
<circle cx="250.40" cy="283.80" r="2.75" fill="#e0531f" stroke="#2a1f1a" stroke-width="0.6"/>
<circle cx="250.20" cy="296.70" r="2.75" fill="#e0531f" stroke="#2a1f1a" stroke-width="0.6"/>
<circle cx="243.60" cy="310.00" r="2.75" fill="#e0531f" stroke="#2a1f1a" stroke-width="0.6"/>
<circle cx="237.20" cy="324.50" r="2.75" fill="#e0531f" stroke="#2a1f1a" stroke-width="0.6"/>
<circle cx="231.10" cy="338.00" r="2.75" fill="#e0531f" stroke="#2a1f1a" stroke-width="0.6"/>
<circle cx="227.10" cy="351.10" r="2.75" fill="#e0531f" stroke="#2a1f1a" stroke-width="0.6"/>
<circle cx="221.20" cy="363.00" r="2.75" fill="#e0531f" stroke="#2a1f1a" stroke-width="0.6"/>
<circle cx="219.60" cy="366.80" r="2.75" fill="#e0531f" stroke="#2a1f1a" stroke-width="0.6"/>
<circle cx="218.50" cy="369.20" r="2.75" fill="#e0531f" stroke="#2a1f1a" stroke-width="0.6"/>
<circle cx="217.40" cy="371.70" r="2.75" fill="#e0531f" stroke="#2a1f1a" stroke-width="0.6"/>
<circle cx="216.80" cy="373.80" r="2.75" fill="#e0531f" stroke="#2a1f1a" stroke-width="0.6"/>
<circle cx="216.10" cy="376.00" r="2.75" fill="#e0531f" stroke="#2a1f1a" stroke-width="0.6"/>
<circle cx="215.20" cy="378.20" r="2.75" fill="#e0531f" stroke="#2a1f1a" stroke-width="0.6"/>
<circle cx="215.00" cy="380.50" r="2.75" fill="#e0531f" stroke="#2a1f1a" stroke-width="0.6"/>
<line x1="336.55" y1="53.60" x2="336.55" y2="57.40" stroke="#2b2424" stroke-width="1.15" />
<line x1="322.53" y1="404.50" x2="322.53" y2="400.50" stroke="#2b2424" stroke-width="1.15" />
<line x1="350.57" y1="404.50" x2="350.57" y2="400.50" stroke="#2b2424" stroke-width="1.15" />
<polyline points="302.90,69.70 325.80,82.00 320.50,95.80 315.90,108.70 321.60,122.10 314.80,135.40 306.50,148.90 310.00,163.50 311.10,178.00 313.70,194.40 340.30,206.60 313.90,215.20 313.30,229.60 312.80,242.20 306.70,256.20 311.10,270.30 302.30,283.80 302.90,296.70 307.20,310.00 303.40,324.50 298.30,338.00 301.60,351.10 299.40,363.00 297.90,366.80 298.50,369.20 300.10,371.70 299.40,373.80 299.00,376.00 297.90,378.20 359.40,380.50" fill="none" stroke="#4d4545" stroke-width="0.7" />
<polyline points="313.30,69.70 316.10,82.00 329.80,95.80 330.40,108.70 322.10,122.10 318.10,135.40 317.90,148.90 313.30,163.50 311.50,178.00 312.60,194.40 315.00,206.60 318.10,215.20 319.90,229.60 315.50,242.20 318.30,256.20 329.10,270.30 326.90,283.80 316.60,296.70 321.00,310.00 325.80,324.50 331.30,338.00 340.30,351.10 354.60,363.00 349.50,366.80 350.00,369.20 371.50,371.70 370.40,373.80 369.30,376.00 369.80,378.20 375.30,380.50" fill="none" stroke="#4d4545" stroke-width="0.7" />
<path d="M302.90,66.60L306.00,69.70L302.90,72.80L299.80,69.70Z" fill="#f8b82a" stroke="#2a1f1a" stroke-width="0.6"/>
<path d="M325.80,78.90L328.90,82.00L325.80,85.10L322.70,82.00Z" fill="#f8b82a" stroke="#2a1f1a" stroke-width="0.6"/>
<path d="M320.50,92.70L323.60,95.80L320.50,98.90L317.40,95.80Z" fill="#f8b82a" stroke="#2a1f1a" stroke-width="0.6"/>
<path d="M315.90,105.60L319.00,108.70L315.90,111.80L312.80,108.70Z" fill="#f8b82a" stroke="#2a1f1a" stroke-width="0.6"/>
<path d="M321.60,119.00L324.70,122.10L321.60,125.20L318.50,122.10Z" fill="#f8b82a" stroke="#2a1f1a" stroke-width="0.6"/>
<path d="M314.80,132.30L317.90,135.40L314.80,138.50L311.70,135.40Z" fill="#f8b82a" stroke="#2a1f1a" stroke-width="0.6"/>
<path d="M306.50,145.80L309.60,148.90L306.50,152.00L303.40,148.90Z" fill="#f8b82a" stroke="#2a1f1a" stroke-width="0.6"/>
<path d="M310.00,160.40L313.10,163.50L310.00,166.60L306.90,163.50Z" fill="#f8b82a" stroke="#2a1f1a" stroke-width="0.6"/>
<path d="M311.10,174.90L314.20,178.00L311.10,181.10L308.00,178.00Z" fill="#f8b82a" stroke="#2a1f1a" stroke-width="0.6"/>
<path d="M313.70,191.30L316.80,194.40L313.70,197.50L310.60,194.40Z" fill="#f8b82a" stroke="#2a1f1a" stroke-width="0.6"/>
<path d="M340.30,203.50L343.40,206.60L340.30,209.70L337.20,206.60Z" fill="#f8b82a" stroke="#2a1f1a" stroke-width="0.6"/>
<path d="M313.90,212.10L317.00,215.20L313.90,218.30L310.80,215.20Z" fill="#f8b82a" stroke="#2a1f1a" stroke-width="0.6"/>
<path d="M313.30,226.50L316.40,229.60L313.30,232.70L310.20,229.60Z" fill="#f8b82a" stroke="#2a1f1a" stroke-width="0.6"/>
<path d="M312.80,239.10L315.90,242.20L312.80,245.30L309.70,242.20Z" fill="#f8b82a" stroke="#2a1f1a" stroke-width="0.6"/>
<path d="M306.70,253.10L309.80,256.20L306.70,259.30L303.60,256.20Z" fill="#f8b82a" stroke="#2a1f1a" stroke-width="0.6"/>
<path d="M311.10,267.20L314.20,270.30L311.10,273.40L308.00,270.30Z" fill="#f8b82a" stroke="#2a1f1a" stroke-width="0.6"/>
<path d="M302.30,280.70L305.40,283.80L302.30,286.90L299.20,283.80Z" fill="#f8b82a" stroke="#2a1f1a" stroke-width="0.6"/>
<path d="M302.90,293.60L306.00,296.70L302.90,299.80L299.80,296.70Z" fill="#f8b82a" stroke="#2a1f1a" stroke-width="0.6"/>
<path d="M307.20,306.90L310.30,310.00L307.20,313.10L304.10,310.00Z" fill="#f8b82a" stroke="#2a1f1a" stroke-width="0.6"/>
<path d="M303.40,321.40L306.50,324.50L303.40,327.60L300.30,324.50Z" fill="#f8b82a" stroke="#2a1f1a" stroke-width="0.6"/>
<path d="M298.30,334.90L301.40,338.00L298.30,341.10L295.20,338.00Z" fill="#f8b82a" stroke="#2a1f1a" stroke-width="0.6"/>
<path d="M301.60,348.00L304.70,351.10L301.60,354.20L298.50,351.10Z" fill="#f8b82a" stroke="#2a1f1a" stroke-width="0.6"/>
<path d="M299.40,359.90L302.50,363.00L299.40,366.10L296.30,363.00Z" fill="#f8b82a" stroke="#2a1f1a" stroke-width="0.6"/>
<path d="M297.90,363.70L301.00,366.80L297.90,369.90L294.80,366.80Z" fill="#f8b82a" stroke="#2a1f1a" stroke-width="0.6"/>
<path d="M298.50,366.10L301.60,369.20L298.50,372.30L295.40,369.20Z" fill="#f8b82a" stroke="#2a1f1a" stroke-width="0.6"/>
<path d="M300.10,368.60L303.20,371.70L300.10,374.80L297.00,371.70Z" fill="#f8b82a" stroke="#2a1f1a" stroke-width="0.6"/>
<path d="M299.40,370.70L302.50,373.80L299.40,376.90L296.30,373.80Z" fill="#f8b82a" stroke="#2a1f1a" stroke-width="0.6"/>
<path d="M299.00,372.90L302.10,376.00L299.00,379.10L295.90,376.00Z" fill="#f8b82a" stroke="#2a1f1a" stroke-width="0.6"/>
<path d="M297.90,375.10L301.00,378.20L297.90,381.30L294.80,378.20Z" fill="#f8b82a" stroke="#2a1f1a" stroke-width="0.6"/>
<path d="M359.40,377.40L362.50,380.50L359.40,383.60L356.30,380.50Z" fill="#f8b82a" stroke="#2a1f1a" stroke-width="0.6"/>
<circle cx="313.30" cy="69.70" r="2.75" fill="#e0531f" stroke="#2a1f1a" stroke-width="0.6"/>
<circle cx="316.10" cy="82.00" r="2.75" fill="#e0531f" stroke="#2a1f1a" stroke-width="0.6"/>
<circle cx="329.80" cy="95.80" r="2.75" fill="#e0531f" stroke="#2a1f1a" stroke-width="0.6"/>
<circle cx="330.40" cy="108.70" r="2.75" fill="#e0531f" stroke="#2a1f1a" stroke-width="0.6"/>
<circle cx="322.10" cy="122.10" r="2.75" fill="#e0531f" stroke="#2a1f1a" stroke-width="0.6"/>
<circle cx="318.10" cy="135.40" r="2.75" fill="#e0531f" stroke="#2a1f1a" stroke-width="0.6"/>
<circle cx="317.90" cy="148.90" r="2.75" fill="#e0531f" stroke="#2a1f1a" stroke-width="0.6"/>
<circle cx="313.30" cy="163.50" r="2.75" fill="#e0531f" stroke="#2a1f1a" stroke-width="0.6"/>
<circle cx="311.50" cy="178.00" r="2.75" fill="#e0531f" stroke="#2a1f1a" stroke-width="0.6"/>
<circle cx="312.60" cy="194.40" r="2.75" fill="#e0531f" stroke="#2a1f1a" stroke-width="0.6"/>
<circle cx="315.00" cy="206.60" r="2.75" fill="#e0531f" stroke="#2a1f1a" stroke-width="0.6"/>
<circle cx="318.10" cy="215.20" r="2.75" fill="#e0531f" stroke="#2a1f1a" stroke-width="0.6"/>
<circle cx="319.90" cy="229.60" r="2.75" fill="#e0531f" stroke="#2a1f1a" stroke-width="0.6"/>
<circle cx="315.50" cy="242.20" r="2.75" fill="#e0531f" stroke="#2a1f1a" stroke-width="0.6"/>
<circle cx="318.30" cy="256.20" r="2.75" fill="#e0531f" stroke="#2a1f1a" stroke-width="0.6"/>
<circle cx="329.10" cy="270.30" r="2.75" fill="#e0531f" stroke="#2a1f1a" stroke-width="0.6"/>
<circle cx="326.90" cy="283.80" r="2.75" fill="#e0531f" stroke="#2a1f1a" stroke-width="0.6"/>
<circle cx="316.60" cy="296.70" r="2.75" fill="#e0531f" stroke="#2a1f1a" stroke-width="0.6"/>
<circle cx="321.00" cy="310.00" r="2.75" fill="#e0531f" stroke="#2a1f1a" stroke-width="0.6"/>
<circle cx="325.80" cy="324.50" r="2.75" fill="#e0531f" stroke="#2a1f1a" stroke-width="0.6"/>
<circle cx="331.30" cy="338.00" r="2.75" fill="#e0531f" stroke="#2a1f1a" stroke-width="0.6"/>
<circle cx="340.30" cy="351.10" r="2.75" fill="#e0531f" stroke="#2a1f1a" stroke-width="0.6"/>
<circle cx="354.60" cy="363.00" r="2.75" fill="#e0531f" stroke="#2a1f1a" stroke-width="0.6"/>
<circle cx="349.50" cy="366.80" r="2.75" fill="#e0531f" stroke="#2a1f1a" stroke-width="0.6"/>
<circle cx="350.00" cy="369.20" r="2.75" fill="#e0531f" stroke="#2a1f1a" stroke-width="0.6"/>
<circle cx="371.50" cy="371.70" r="2.75" fill="#e0531f" stroke="#2a1f1a" stroke-width="0.6"/>
<circle cx="370.40" cy="373.80" r="2.75" fill="#e0531f" stroke="#2a1f1a" stroke-width="0.6"/>
<circle cx="369.30" cy="376.00" r="2.75" fill="#e0531f" stroke="#2a1f1a" stroke-width="0.6"/>
<circle cx="369.80" cy="378.20" r="2.75" fill="#e0531f" stroke="#2a1f1a" stroke-width="0.6"/>
<circle cx="375.30" cy="380.50" r="2.75" fill="#e0531f" stroke="#2a1f1a" stroke-width="0.6"/>
<line x1="421.33" y1="53.60" x2="421.33" y2="57.40" stroke="#2b2424" stroke-width="1.15" />
<line x1="449.67" y1="53.60" x2="449.67" y2="57.40" stroke="#2b2424" stroke-width="1.15" />
<line x1="435.50" y1="404.50" x2="435.50" y2="400.50" stroke="#2b2424" stroke-width="1.15" />
<polyline points="394.00,69.70 394.00,82.00 395.20,95.80 394.80,108.70 394.80,122.10 394.30,135.40 394.00,148.90 394.00,163.50 394.00,178.00 394.00,194.40 394.00,206.60 394.00,215.20 394.00,229.60 394.00,242.20 394.00,256.20 394.00,270.30 394.20,283.80 394.20,296.70 394.60,310.00 394.60,324.50 394.40,338.00 395.80,351.10 398.50,363.00 397.50,366.80 398.00,369.20 401.00,371.70 400.50,373.80 401.50,376.00 405.40,378.20 465.60,380.50" fill="none" stroke="#4d4545" stroke-width="0.7" />
<polyline points="398.30,69.70 399.30,82.00 400.80,95.80 399.30,108.70 399.80,122.10 397.90,135.40 394.90,148.90 397.90,163.50 397.50,178.00 397.30,194.40 396.30,206.60 398.90,215.20 396.90,229.60 396.30,242.20 395.30,256.20 396.30,270.30 395.90,283.80 395.50,296.70 396.90,310.00 397.50,324.50 396.30,338.00 399.40,351.10 401.40,363.00 397.50,366.80 397.90,369.20 402.20,371.70 400.80,373.80 401.80,376.00 402.80,378.20 463.00,380.50" fill="none" stroke="#4d4545" stroke-width="0.7" />
<path d="M394.00,66.60L397.10,69.70L394.00,72.80L390.90,69.70Z" fill="#f8b82a" stroke="#2a1f1a" stroke-width="0.6"/>
<path d="M394.00,78.90L397.10,82.00L394.00,85.10L390.90,82.00Z" fill="#f8b82a" stroke="#2a1f1a" stroke-width="0.6"/>
<path d="M395.20,92.70L398.30,95.80L395.20,98.90L392.10,95.80Z" fill="#f8b82a" stroke="#2a1f1a" stroke-width="0.6"/>
<path d="M394.80,105.60L397.90,108.70L394.80,111.80L391.70,108.70Z" fill="#f8b82a" stroke="#2a1f1a" stroke-width="0.6"/>
<path d="M394.80,119.00L397.90,122.10L394.80,125.20L391.70,122.10Z" fill="#f8b82a" stroke="#2a1f1a" stroke-width="0.6"/>
<path d="M394.30,132.30L397.40,135.40L394.30,138.50L391.20,135.40Z" fill="#f8b82a" stroke="#2a1f1a" stroke-width="0.6"/>
<path d="M394.00,145.80L397.10,148.90L394.00,152.00L390.90,148.90Z" fill="#f8b82a" stroke="#2a1f1a" stroke-width="0.6"/>
<path d="M394.00,160.40L397.10,163.50L394.00,166.60L390.90,163.50Z" fill="#f8b82a" stroke="#2a1f1a" stroke-width="0.6"/>
<path d="M394.00,174.90L397.10,178.00L394.00,181.10L390.90,178.00Z" fill="#f8b82a" stroke="#2a1f1a" stroke-width="0.6"/>
<path d="M394.00,191.30L397.10,194.40L394.00,197.50L390.90,194.40Z" fill="#f8b82a" stroke="#2a1f1a" stroke-width="0.6"/>
<path d="M394.00,203.50L397.10,206.60L394.00,209.70L390.90,206.60Z" fill="#f8b82a" stroke="#2a1f1a" stroke-width="0.6"/>
<path d="M394.00,212.10L397.10,215.20L394.00,218.30L390.90,215.20Z" fill="#f8b82a" stroke="#2a1f1a" stroke-width="0.6"/>
<path d="M394.00,226.50L397.10,229.60L394.00,232.70L390.90,229.60Z" fill="#f8b82a" stroke="#2a1f1a" stroke-width="0.6"/>
<path d="M394.00,239.10L397.10,242.20L394.00,245.30L390.90,242.20Z" fill="#f8b82a" stroke="#2a1f1a" stroke-width="0.6"/>
<path d="M394.00,253.10L397.10,256.20L394.00,259.30L390.90,256.20Z" fill="#f8b82a" stroke="#2a1f1a" stroke-width="0.6"/>
<path d="M394.00,267.20L397.10,270.30L394.00,273.40L390.90,270.30Z" fill="#f8b82a" stroke="#2a1f1a" stroke-width="0.6"/>
<path d="M394.20,280.70L397.30,283.80L394.20,286.90L391.10,283.80Z" fill="#f8b82a" stroke="#2a1f1a" stroke-width="0.6"/>
<path d="M394.20,293.60L397.30,296.70L394.20,299.80L391.10,296.70Z" fill="#f8b82a" stroke="#2a1f1a" stroke-width="0.6"/>
<path d="M394.60,306.90L397.70,310.00L394.60,313.10L391.50,310.00Z" fill="#f8b82a" stroke="#2a1f1a" stroke-width="0.6"/>
<path d="M394.60,321.40L397.70,324.50L394.60,327.60L391.50,324.50Z" fill="#f8b82a" stroke="#2a1f1a" stroke-width="0.6"/>
<path d="M394.40,334.90L397.50,338.00L394.40,341.10L391.30,338.00Z" fill="#f8b82a" stroke="#2a1f1a" stroke-width="0.6"/>
<path d="M395.80,348.00L398.90,351.10L395.80,354.20L392.70,351.10Z" fill="#f8b82a" stroke="#2a1f1a" stroke-width="0.6"/>
<path d="M398.50,359.90L401.60,363.00L398.50,366.10L395.40,363.00Z" fill="#f8b82a" stroke="#2a1f1a" stroke-width="0.6"/>
<path d="M397.50,363.70L400.60,366.80L397.50,369.90L394.40,366.80Z" fill="#f8b82a" stroke="#2a1f1a" stroke-width="0.6"/>
<path d="M398.00,366.10L401.10,369.20L398.00,372.30L394.90,369.20Z" fill="#f8b82a" stroke="#2a1f1a" stroke-width="0.6"/>
<path d="M401.00,368.60L404.10,371.70L401.00,374.80L397.90,371.70Z" fill="#f8b82a" stroke="#2a1f1a" stroke-width="0.6"/>
<path d="M400.50,370.70L403.60,373.80L400.50,376.90L397.40,373.80Z" fill="#f8b82a" stroke="#2a1f1a" stroke-width="0.6"/>
<path d="M401.50,372.90L404.60,376.00L401.50,379.10L398.40,376.00Z" fill="#f8b82a" stroke="#2a1f1a" stroke-width="0.6"/>
<path d="M405.40,375.10L408.50,378.20L405.40,381.30L402.30,378.20Z" fill="#f8b82a" stroke="#2a1f1a" stroke-width="0.6"/>
<path d="M465.60,377.40L468.70,380.50L465.60,383.60L462.50,380.50Z" fill="#f8b82a" stroke="#2a1f1a" stroke-width="0.6"/>
<circle cx="398.30" cy="69.70" r="2.75" fill="#e0531f" stroke="#2a1f1a" stroke-width="0.6"/>
<circle cx="399.30" cy="82.00" r="2.75" fill="#e0531f" stroke="#2a1f1a" stroke-width="0.6"/>
<circle cx="400.80" cy="95.80" r="2.75" fill="#e0531f" stroke="#2a1f1a" stroke-width="0.6"/>
<circle cx="399.30" cy="108.70" r="2.75" fill="#e0531f" stroke="#2a1f1a" stroke-width="0.6"/>
<circle cx="399.80" cy="122.10" r="2.75" fill="#e0531f" stroke="#2a1f1a" stroke-width="0.6"/>
<circle cx="397.90" cy="135.40" r="2.75" fill="#e0531f" stroke="#2a1f1a" stroke-width="0.6"/>
<circle cx="394.90" cy="148.90" r="2.75" fill="#e0531f" stroke="#2a1f1a" stroke-width="0.6"/>
<circle cx="397.90" cy="163.50" r="2.75" fill="#e0531f" stroke="#2a1f1a" stroke-width="0.6"/>
<circle cx="397.50" cy="178.00" r="2.75" fill="#e0531f" stroke="#2a1f1a" stroke-width="0.6"/>
<circle cx="397.30" cy="194.40" r="2.75" fill="#e0531f" stroke="#2a1f1a" stroke-width="0.6"/>
<circle cx="396.30" cy="206.60" r="2.75" fill="#e0531f" stroke="#2a1f1a" stroke-width="0.6"/>
<circle cx="398.90" cy="215.20" r="2.75" fill="#e0531f" stroke="#2a1f1a" stroke-width="0.6"/>
<circle cx="396.90" cy="229.60" r="2.75" fill="#e0531f" stroke="#2a1f1a" stroke-width="0.6"/>
<circle cx="396.30" cy="242.20" r="2.75" fill="#e0531f" stroke="#2a1f1a" stroke-width="0.6"/>
<circle cx="395.30" cy="256.20" r="2.75" fill="#e0531f" stroke="#2a1f1a" stroke-width="0.6"/>
<circle cx="396.30" cy="270.30" r="2.75" fill="#e0531f" stroke="#2a1f1a" stroke-width="0.6"/>
<circle cx="395.90" cy="283.80" r="2.75" fill="#e0531f" stroke="#2a1f1a" stroke-width="0.6"/>
<circle cx="395.50" cy="296.70" r="2.75" fill="#e0531f" stroke="#2a1f1a" stroke-width="0.6"/>
<circle cx="396.90" cy="310.00" r="2.75" fill="#e0531f" stroke="#2a1f1a" stroke-width="0.6"/>
<circle cx="397.50" cy="324.50" r="2.75" fill="#e0531f" stroke="#2a1f1a" stroke-width="0.6"/>
<circle cx="396.30" cy="338.00" r="2.75" fill="#e0531f" stroke="#2a1f1a" stroke-width="0.6"/>
<circle cx="399.40" cy="351.10" r="2.75" fill="#e0531f" stroke="#2a1f1a" stroke-width="0.6"/>
<circle cx="401.40" cy="363.00" r="2.75" fill="#e0531f" stroke="#2a1f1a" stroke-width="0.6"/>
<circle cx="397.50" cy="366.80" r="2.75" fill="#e0531f" stroke="#2a1f1a" stroke-width="0.6"/>
<circle cx="397.90" cy="369.20" r="2.75" fill="#e0531f" stroke="#2a1f1a" stroke-width="0.6"/>
<circle cx="402.20" cy="371.70" r="2.75" fill="#e0531f" stroke="#2a1f1a" stroke-width="0.6"/>
<circle cx="400.80" cy="373.80" r="2.75" fill="#e0531f" stroke="#2a1f1a" stroke-width="0.6"/>
<circle cx="401.80" cy="376.00" r="2.75" fill="#e0531f" stroke="#2a1f1a" stroke-width="0.6"/>
<circle cx="402.80" cy="378.20" r="2.75" fill="#e0531f" stroke="#2a1f1a" stroke-width="0.6"/>
<circle cx="463.00" cy="380.50" r="2.75" fill="#e0531f" stroke="#2a1f1a" stroke-width="0.6"/>
<line x1="522.77" y1="53.60" x2="522.77" y2="57.40" stroke="#2b2424" stroke-width="1.15" />
<line x1="551.03" y1="53.60" x2="551.03" y2="57.40" stroke="#2b2424" stroke-width="1.15" />
<line x1="522.77" y1="404.50" x2="522.77" y2="400.50" stroke="#2b2424" stroke-width="1.15" />
<line x1="551.03" y1="404.50" x2="551.03" y2="400.50" stroke="#2b2424" stroke-width="1.15" />
<polyline points="528.20,69.70 516.60,82.00 569.30,95.80 563.20,108.70 544.00,122.10 533.70,135.40 534.60,148.90 513.70,163.50 515.50,178.00 512.80,194.40 520.50,206.60 529.80,215.20 521.00,229.60 513.00,242.20 513.70,256.20 550.60,270.30 519.90,283.80 518.10,296.70 521.50,310.00 515.00,324.50 519.40,338.00 516.10,351.10 517.90,363.00 505.40,366.80 502.00,369.20 515.00,371.70 507.80,373.80 510.10,376.00 508.70,378.20 539.60,380.50" fill="none" stroke="#4d4545" stroke-width="0.7" />
<polyline points="518.80,69.70 512.20,82.00 556.60,95.80 542.30,108.70 526.00,122.10 516.10,135.40 514.80,148.90 506.70,163.50 510.40,178.00 509.50,194.40 521.60,206.60 519.20,215.20 514.40,229.60 513.70,242.20 508.20,256.20 513.70,270.30 506.70,283.80 503.80,296.70 509.40,310.00 507.10,324.50 503.40,338.00 510.00,351.10 511.60,363.00 497.80,366.80 500.80,369.20 500.80,371.70 502.50,373.80 499.90,376.00 559.70,378.20 539.60,380.50" fill="none" stroke="#4d4545" stroke-width="0.7" />
<path d="M528.20,66.60L531.30,69.70L528.20,72.80L525.10,69.70Z" fill="#f8b82a" stroke="#2a1f1a" stroke-width="0.6"/>
<path d="M516.60,78.90L519.70,82.00L516.60,85.10L513.50,82.00Z" fill="#f8b82a" stroke="#2a1f1a" stroke-width="0.6"/>
<path d="M569.30,92.70L572.40,95.80L569.30,98.90L566.20,95.80Z" fill="#f8b82a" stroke="#2a1f1a" stroke-width="0.6"/>
<path d="M563.20,105.60L566.30,108.70L563.20,111.80L560.10,108.70Z" fill="#f8b82a" stroke="#2a1f1a" stroke-width="0.6"/>
<path d="M544.00,119.00L547.10,122.10L544.00,125.20L540.90,122.10Z" fill="#f8b82a" stroke="#2a1f1a" stroke-width="0.6"/>
<path d="M533.70,132.30L536.80,135.40L533.70,138.50L530.60,135.40Z" fill="#f8b82a" stroke="#2a1f1a" stroke-width="0.6"/>
<path d="M534.60,145.80L537.70,148.90L534.60,152.00L531.50,148.90Z" fill="#f8b82a" stroke="#2a1f1a" stroke-width="0.6"/>
<path d="M513.70,160.40L516.80,163.50L513.70,166.60L510.60,163.50Z" fill="#f8b82a" stroke="#2a1f1a" stroke-width="0.6"/>
<path d="M515.50,174.90L518.60,178.00L515.50,181.10L512.40,178.00Z" fill="#f8b82a" stroke="#2a1f1a" stroke-width="0.6"/>
<path d="M512.80,191.30L515.90,194.40L512.80,197.50L509.70,194.40Z" fill="#f8b82a" stroke="#2a1f1a" stroke-width="0.6"/>
<path d="M520.50,203.50L523.60,206.60L520.50,209.70L517.40,206.60Z" fill="#f8b82a" stroke="#2a1f1a" stroke-width="0.6"/>
<path d="M529.80,212.10L532.90,215.20L529.80,218.30L526.70,215.20Z" fill="#f8b82a" stroke="#2a1f1a" stroke-width="0.6"/>
<path d="M521.00,226.50L524.10,229.60L521.00,232.70L517.90,229.60Z" fill="#f8b82a" stroke="#2a1f1a" stroke-width="0.6"/>
<path d="M513.00,239.10L516.10,242.20L513.00,245.30L509.90,242.20Z" fill="#f8b82a" stroke="#2a1f1a" stroke-width="0.6"/>
<path d="M513.70,253.10L516.80,256.20L513.70,259.30L510.60,256.20Z" fill="#f8b82a" stroke="#2a1f1a" stroke-width="0.6"/>
<path d="M550.60,267.20L553.70,270.30L550.60,273.40L547.50,270.30Z" fill="#f8b82a" stroke="#2a1f1a" stroke-width="0.6"/>
<path d="M519.90,280.70L523.00,283.80L519.90,286.90L516.80,283.80Z" fill="#f8b82a" stroke="#2a1f1a" stroke-width="0.6"/>
<path d="M518.10,293.60L521.20,296.70L518.10,299.80L515.00,296.70Z" fill="#f8b82a" stroke="#2a1f1a" stroke-width="0.6"/>
<path d="M521.50,306.90L524.60,310.00L521.50,313.10L518.40,310.00Z" fill="#f8b82a" stroke="#2a1f1a" stroke-width="0.6"/>
<path d="M515.00,321.40L518.10,324.50L515.00,327.60L511.90,324.50Z" fill="#f8b82a" stroke="#2a1f1a" stroke-width="0.6"/>
<path d="M519.40,334.90L522.50,338.00L519.40,341.10L516.30,338.00Z" fill="#f8b82a" stroke="#2a1f1a" stroke-width="0.6"/>
<path d="M516.10,348.00L519.20,351.10L516.10,354.20L513.00,351.10Z" fill="#f8b82a" stroke="#2a1f1a" stroke-width="0.6"/>
<path d="M517.90,359.90L521.00,363.00L517.90,366.10L514.80,363.00Z" fill="#f8b82a" stroke="#2a1f1a" stroke-width="0.6"/>
<path d="M505.40,363.70L508.50,366.80L505.40,369.90L502.30,366.80Z" fill="#f8b82a" stroke="#2a1f1a" stroke-width="0.6"/>
<path d="M502.00,366.10L505.10,369.20L502.00,372.30L498.90,369.20Z" fill="#f8b82a" stroke="#2a1f1a" stroke-width="0.6"/>
<path d="M515.00,368.60L518.10,371.70L515.00,374.80L511.90,371.70Z" fill="#f8b82a" stroke="#2a1f1a" stroke-width="0.6"/>
<path d="M507.80,370.70L510.90,373.80L507.80,376.90L504.70,373.80Z" fill="#f8b82a" stroke="#2a1f1a" stroke-width="0.6"/>
<path d="M510.10,372.90L513.20,376.00L510.10,379.10L507.00,376.00Z" fill="#f8b82a" stroke="#2a1f1a" stroke-width="0.6"/>
<path d="M508.70,375.10L511.80,378.20L508.70,381.30L505.60,378.20Z" fill="#f8b82a" stroke="#2a1f1a" stroke-width="0.6"/>
<path d="M539.60,377.40L542.70,380.50L539.60,383.60L536.50,380.50Z" fill="#f8b82a" stroke="#2a1f1a" stroke-width="0.6"/>
<circle cx="518.80" cy="69.70" r="2.75" fill="#e0531f" stroke="#2a1f1a" stroke-width="0.6"/>
<circle cx="512.20" cy="82.00" r="2.75" fill="#e0531f" stroke="#2a1f1a" stroke-width="0.6"/>
<circle cx="556.60" cy="95.80" r="2.75" fill="#e0531f" stroke="#2a1f1a" stroke-width="0.6"/>
<circle cx="542.30" cy="108.70" r="2.75" fill="#e0531f" stroke="#2a1f1a" stroke-width="0.6"/>
<circle cx="526.00" cy="122.10" r="2.75" fill="#e0531f" stroke="#2a1f1a" stroke-width="0.6"/>
<circle cx="516.10" cy="135.40" r="2.75" fill="#e0531f" stroke="#2a1f1a" stroke-width="0.6"/>
<circle cx="514.80" cy="148.90" r="2.75" fill="#e0531f" stroke="#2a1f1a" stroke-width="0.6"/>
<circle cx="506.70" cy="163.50" r="2.75" fill="#e0531f" stroke="#2a1f1a" stroke-width="0.6"/>
<circle cx="510.40" cy="178.00" r="2.75" fill="#e0531f" stroke="#2a1f1a" stroke-width="0.6"/>
<circle cx="509.50" cy="194.40" r="2.75" fill="#e0531f" stroke="#2a1f1a" stroke-width="0.6"/>
<circle cx="521.60" cy="206.60" r="2.75" fill="#e0531f" stroke="#2a1f1a" stroke-width="0.6"/>
<circle cx="519.20" cy="215.20" r="2.75" fill="#e0531f" stroke="#2a1f1a" stroke-width="0.6"/>
<circle cx="514.40" cy="229.60" r="2.75" fill="#e0531f" stroke="#2a1f1a" stroke-width="0.6"/>
<circle cx="513.70" cy="242.20" r="2.75" fill="#e0531f" stroke="#2a1f1a" stroke-width="0.6"/>
<circle cx="508.20" cy="256.20" r="2.75" fill="#e0531f" stroke="#2a1f1a" stroke-width="0.6"/>
<circle cx="513.70" cy="270.30" r="2.75" fill="#e0531f" stroke="#2a1f1a" stroke-width="0.6"/>
<circle cx="506.70" cy="283.80" r="2.75" fill="#e0531f" stroke="#2a1f1a" stroke-width="0.6"/>
<circle cx="503.80" cy="296.70" r="2.75" fill="#e0531f" stroke="#2a1f1a" stroke-width="0.6"/>
<circle cx="509.40" cy="310.00" r="2.75" fill="#e0531f" stroke="#2a1f1a" stroke-width="0.6"/>
<circle cx="507.10" cy="324.50" r="2.75" fill="#e0531f" stroke="#2a1f1a" stroke-width="0.6"/>
<circle cx="503.40" cy="338.00" r="2.75" fill="#e0531f" stroke="#2a1f1a" stroke-width="0.6"/>
<circle cx="510.00" cy="351.10" r="2.75" fill="#e0531f" stroke="#2a1f1a" stroke-width="0.6"/>
<circle cx="511.60" cy="363.00" r="2.75" fill="#e0531f" stroke="#2a1f1a" stroke-width="0.6"/>
<circle cx="497.80" cy="366.80" r="2.75" fill="#e0531f" stroke="#2a1f1a" stroke-width="0.6"/>
<circle cx="500.80" cy="369.20" r="2.75" fill="#e0531f" stroke="#2a1f1a" stroke-width="0.6"/>
<circle cx="500.80" cy="371.70" r="2.75" fill="#e0531f" stroke="#2a1f1a" stroke-width="0.6"/>
<circle cx="502.50" cy="373.80" r="2.75" fill="#e0531f" stroke="#2a1f1a" stroke-width="0.6"/>
<circle cx="499.90" cy="376.00" r="2.75" fill="#e0531f" stroke="#2a1f1a" stroke-width="0.6"/>
<circle cx="559.70" cy="378.20" r="2.75" fill="#e0531f" stroke="#2a1f1a" stroke-width="0.6"/>
<circle cx="539.60" cy="380.50" r="2.75" fill="#e0531f" stroke="#2a1f1a" stroke-width="0.6"/>
<line x1="614.74" y1="53.60" x2="614.74" y2="57.40" stroke="#2b2424" stroke-width="1.15" />
<line x1="614.74" y1="404.50" x2="614.74" y2="400.50" stroke="#2b2424" stroke-width="1.15" />
<line x1="631.68" y1="53.60" x2="631.68" y2="57.40" stroke="#2b2424" stroke-width="1.15" />
<line x1="631.68" y1="404.50" x2="631.68" y2="400.50" stroke="#2b2424" stroke-width="1.15" />
<line x1="648.62" y1="53.60" x2="648.62" y2="57.40" stroke="#2b2424" stroke-width="1.15" />
<line x1="648.62" y1="404.50" x2="648.62" y2="400.50" stroke="#2b2424" stroke-width="1.15" />
<line x1="665.56" y1="53.60" x2="665.56" y2="57.40" stroke="#2b2424" stroke-width="1.15" />
<line x1="665.56" y1="404.50" x2="665.56" y2="400.50" stroke="#2b2424" stroke-width="1.15" />
<line x1="615.60" y1="53.60" x2="615.60" y2="404.50" stroke="#f4b060" stroke-width="1.2" />
<line x1="621.30" y1="53.60" x2="621.30" y2="404.50" stroke="#9a9494" stroke-width="0.7" />
<line x1="625.50" y1="53.60" x2="625.50" y2="404.50" stroke="#9a9494" stroke-width="0.7" />
<polyline points="618.80,69.70 617.80,82.00 624.00,95.80 630.70,108.70 620.90,122.10 627.00,135.40 665.20,148.90 619.90,163.50 618.60,178.00 621.70,194.40 631.80,206.60 620.90,215.20 633.20,229.60 634.50,242.20 646.80,256.20 650.60,270.30 650.10,283.80 638.70,296.70 633.20,310.00 635.90,324.50 661.00,338.00 637.60,351.10 637.40,363.00 667.30,366.80 661.40,369.20 645.30,371.70 654.30,373.80 649.50,376.00 644.70,378.20 604.20,380.50" fill="none" stroke="#4d4545" stroke-width="0.7" />
<circle cx="618.80" cy="69.70" r="2.75" fill="#e0531f" stroke="#2a1f1a" stroke-width="0.6"/>
<circle cx="617.80" cy="82.00" r="2.75" fill="#e0531f" stroke="#2a1f1a" stroke-width="0.6"/>
<circle cx="624.00" cy="95.80" r="2.75" fill="#e0531f" stroke="#2a1f1a" stroke-width="0.6"/>
<circle cx="630.70" cy="108.70" r="2.75" fill="#e0531f" stroke="#2a1f1a" stroke-width="0.6"/>
<circle cx="620.90" cy="122.10" r="2.75" fill="#e0531f" stroke="#2a1f1a" stroke-width="0.6"/>
<circle cx="627.00" cy="135.40" r="2.75" fill="#e0531f" stroke="#2a1f1a" stroke-width="0.6"/>
<circle cx="665.20" cy="148.90" r="2.75" fill="#e0531f" stroke="#2a1f1a" stroke-width="0.6"/>
<circle cx="619.90" cy="163.50" r="2.75" fill="#e0531f" stroke="#2a1f1a" stroke-width="0.6"/>
<circle cx="618.60" cy="178.00" r="2.75" fill="#e0531f" stroke="#2a1f1a" stroke-width="0.6"/>
<circle cx="621.70" cy="194.40" r="2.75" fill="#e0531f" stroke="#2a1f1a" stroke-width="0.6"/>
<circle cx="631.80" cy="206.60" r="2.75" fill="#e0531f" stroke="#2a1f1a" stroke-width="0.6"/>
<circle cx="620.90" cy="215.20" r="2.75" fill="#e0531f" stroke="#2a1f1a" stroke-width="0.6"/>
<circle cx="633.20" cy="229.60" r="2.75" fill="#e0531f" stroke="#2a1f1a" stroke-width="0.6"/>
<circle cx="634.50" cy="242.20" r="2.75" fill="#e0531f" stroke="#2a1f1a" stroke-width="0.6"/>
<circle cx="646.80" cy="256.20" r="2.75" fill="#e0531f" stroke="#2a1f1a" stroke-width="0.6"/>
<circle cx="650.60" cy="270.30" r="2.75" fill="#e0531f" stroke="#2a1f1a" stroke-width="0.6"/>
<circle cx="650.10" cy="283.80" r="2.75" fill="#e0531f" stroke="#2a1f1a" stroke-width="0.6"/>
<circle cx="638.70" cy="296.70" r="2.75" fill="#e0531f" stroke="#2a1f1a" stroke-width="0.6"/>
<circle cx="633.20" cy="310.00" r="2.75" fill="#e0531f" stroke="#2a1f1a" stroke-width="0.6"/>
<circle cx="635.90" cy="324.50" r="2.75" fill="#e0531f" stroke="#2a1f1a" stroke-width="0.6"/>
<circle cx="661.00" cy="338.00" r="2.75" fill="#e0531f" stroke="#2a1f1a" stroke-width="0.6"/>
<circle cx="637.60" cy="351.10" r="2.75" fill="#e0531f" stroke="#2a1f1a" stroke-width="0.6"/>
<circle cx="637.40" cy="363.00" r="2.75" fill="#e0531f" stroke="#2a1f1a" stroke-width="0.6"/>
<circle cx="667.30" cy="366.80" r="2.75" fill="#e0531f" stroke="#2a1f1a" stroke-width="0.6"/>
<circle cx="661.40" cy="369.20" r="2.75" fill="#e0531f" stroke="#2a1f1a" stroke-width="0.6"/>
<circle cx="645.30" cy="371.70" r="2.75" fill="#e0531f" stroke="#2a1f1a" stroke-width="0.6"/>
<circle cx="654.30" cy="373.80" r="2.75" fill="#e0531f" stroke="#2a1f1a" stroke-width="0.6"/>
<circle cx="649.50" cy="376.00" r="2.75" fill="#e0531f" stroke="#2a1f1a" stroke-width="0.6"/>
<circle cx="644.70" cy="378.20" r="2.75" fill="#e0531f" stroke="#2a1f1a" stroke-width="0.6"/>
<circle cx="604.20" cy="380.50" r="2.75" fill="#e0531f" stroke="#2a1f1a" stroke-width="0.6"/>
<text transform="translate(614.30,274.50) rotate(-90)" font-size="10.6" text-anchor="middle" fill="#f2aa52" stroke="#f2aa52" stroke-width="0.2" font-weight="normal" font-style="normal" >CI Chondrite</text>
<text transform="translate(635.00,277.80) rotate(-90)" font-size="10.6" text-anchor="middle" fill="#a39d9d" stroke="#a39d9d" stroke-width="0.2" font-weight="normal" font-style="normal" >UCC</text>
<text x="200.30" y="8.80" font-size="12.5" text-anchor="middle" fill="#231f20" stroke="#231f20" stroke-width="0.2" font-weight="bold" font-style="normal" >a</text>
<text x="300.60" y="8.80" font-size="12.5" text-anchor="middle" fill="#231f20" stroke="#231f20" stroke-width="0.2" font-weight="bold" font-style="normal" >b</text>
<text x="402.00" y="8.80" font-size="12.5" text-anchor="middle" fill="#231f20" stroke="#231f20" stroke-width="0.2" font-weight="bold" font-style="normal" >c</text>
<text x="503.80" y="8.80" font-size="12.5" text-anchor="middle" fill="#231f20" stroke="#231f20" stroke-width="0.2" font-weight="bold" font-style="normal" >d</text>
<text x="604.00" y="8.80" font-size="12.5" text-anchor="middle" fill="#231f20" stroke="#231f20" stroke-width="0.2" font-weight="bold" font-style="normal" >e</text>
<text x="197.60" y="50.80" font-size="10.5" text-anchor="middle" fill="#231f20" stroke="#231f20" stroke-width="0.2" font-weight="normal" font-style="normal" >0.1</text>
<text x="236.80" y="50.80" font-size="10.5" text-anchor="middle" fill="#231f20" stroke="#231f20" stroke-width="0.2" font-weight="normal" font-style="normal" >0.3</text>
<text x="274.40" y="50.80" font-size="10.5" text-anchor="middle" fill="#231f20" stroke="#231f20" stroke-width="0.2" font-weight="normal" font-style="normal" >0.5</text>
<text x="294.20" y="50.80" font-size="10.5" text-anchor="middle" fill="#231f20" stroke="#231f20" stroke-width="0.2" font-weight="normal" font-style="normal" >0</text>
<text x="337.20" y="50.80" font-size="10.5" text-anchor="middle" fill="#231f20" stroke="#231f20" stroke-width="0.2" font-weight="normal" font-style="normal" >0.1</text>
<text x="378.20" y="50.80" font-size="10.5" text-anchor="middle" fill="#231f20" stroke="#231f20" stroke-width="0.2" font-weight="normal" font-style="normal" >0.2</text>
<text x="393.40" y="50.80" font-size="10.5" text-anchor="middle" fill="#231f20" stroke="#231f20" stroke-width="0.2" font-weight="normal" font-style="normal" >0</text>
<text x="421.00" y="50.80" font-size="10.5" text-anchor="middle" fill="#231f20" stroke="#231f20" stroke-width="0.2" font-weight="normal" font-style="normal" >0.2</text>
<text x="449.20" y="50.80" font-size="10.5" text-anchor="middle" fill="#231f20" stroke="#231f20" stroke-width="0.2" font-weight="normal" font-style="normal" >0.4</text>
<text x="477.00" y="50.80" font-size="10.5" text-anchor="middle" fill="#231f20" stroke="#231f20" stroke-width="0.2" font-weight="normal" font-style="normal" >0.6</text>
<text x="494.80" y="50.80" font-size="10.5" text-anchor="middle" fill="#231f20" stroke="#231f20" stroke-width="0.2" font-weight="normal" font-style="normal" >0</text>
<text x="522.20" y="50.80" font-size="10.5" text-anchor="middle" fill="#231f20" stroke="#231f20" stroke-width="0.2" font-weight="normal" font-style="normal" >0.5</text>
<text x="551.00" y="50.80" font-size="10.5" text-anchor="middle" fill="#231f20" stroke="#231f20" stroke-width="0.2" font-weight="normal" font-style="normal" >1</text>
<text x="578.40" y="50.80" font-size="10.5" text-anchor="middle" fill="#231f20" stroke="#231f20" stroke-width="0.2" font-weight="normal" font-style="normal" >1.5</text>
<text x="598.00" y="50.80" font-size="10.5" text-anchor="middle" fill="#231f20" stroke="#231f20" stroke-width="0.2" font-weight="normal" font-style="normal" >0</text>
<text x="615.60" y="50.80" font-size="10.5" text-anchor="middle" fill="#231f20" stroke="#231f20" stroke-width="0.2" font-weight="normal" font-style="normal" >1</text>
<text x="631.80" y="50.80" font-size="10.5" text-anchor="middle" fill="#231f20" stroke="#231f20" stroke-width="0.2" font-weight="normal" font-style="normal" >2</text>
<text x="649.00" y="50.80" font-size="10.5" text-anchor="middle" fill="#231f20" stroke="#231f20" stroke-width="0.2" font-weight="normal" font-style="normal" >3</text>
<text x="665.20" y="50.80" font-size="10.5" text-anchor="middle" fill="#231f20" stroke="#231f20" stroke-width="0.2" font-weight="normal" font-style="normal" >4</text>
<text x="682.00" y="50.80" font-size="10.5" text-anchor="middle" fill="#231f20" stroke="#231f20" stroke-width="0.2" font-weight="normal" font-style="normal" >5</text>
<text x="294.40" y="416.60" font-size="10.5" text-anchor="middle" fill="#231f20" stroke="#231f20" stroke-width="0.2" font-weight="normal" font-style="normal" >0</text>
<text x="322.40" y="416.60" font-size="10.5" text-anchor="middle" fill="#231f20" stroke="#231f20" stroke-width="0.2" font-weight="normal" font-style="normal" >0.1</text>
<text x="351.00" y="416.60" font-size="10.5" text-anchor="middle" fill="#231f20" stroke="#231f20" stroke-width="0.2" font-weight="normal" font-style="normal" >0.2</text>
<text x="377.80" y="416.60" font-size="10.5" text-anchor="middle" fill="#231f20" stroke="#231f20" stroke-width="0.2" font-weight="normal" font-style="normal" >0.3</text>
<text x="393.60" y="416.60" font-size="10.5" text-anchor="middle" fill="#231f20" stroke="#231f20" stroke-width="0.2" font-weight="normal" font-style="normal" >0</text>
<text x="435.40" y="416.60" font-size="10.5" text-anchor="middle" fill="#231f20" stroke="#231f20" stroke-width="0.2" font-weight="normal" font-style="normal" >0.5</text>
<text x="476.60" y="416.60" font-size="10.5" text-anchor="middle" fill="#231f20" stroke="#231f20" stroke-width="0.2" font-weight="normal" font-style="normal" >1</text>
<text x="493.80" y="415.60" font-size="10.5" text-anchor="middle" fill="#231f20" stroke="#231f20" stroke-width="0.2" font-weight="normal" font-style="normal" >0</text>
<text x="522.20" y="415.60" font-size="10.5" text-anchor="middle" fill="#231f20" stroke="#231f20" stroke-width="0.2" font-weight="normal" font-style="normal" >1</text>
<text x="551.40" y="416.60" font-size="10.5" text-anchor="middle" fill="#231f20" stroke="#231f20" stroke-width="0.2" font-weight="normal" font-style="normal" >2</text>
<text x="579.40" y="415.60" font-size="10.5" text-anchor="middle" fill="#231f20" stroke="#231f20" stroke-width="0.2" font-weight="normal" font-style="normal" >3</text>
<text x="236.6" y="33.9" font-size="12.8" text-anchor="middle" fill="#231f20" stroke="#231f20" stroke-width="0.2"><tspan font-size="6.8" dy="-3.4">187</tspan><tspan dy="3.4">Os/</tspan><tspan font-size="6.8" dy="-3.4">188</tspan><tspan dy="3.4">Os</tspan></text>
<circle cx="306.00" cy="30.00" r="2.9" fill="#e0531f" stroke="#2a1f1a" stroke-width="0.6"/>
<text x="313.60" y="34.20" font-size="12.4" text-anchor="start" fill="#231f20" stroke="#231f20" stroke-width="0.2" font-weight="normal" font-style="normal" >Os (ppb)</text>
<circle cx="410.00" cy="30.00" r="2.9" fill="#e0531f" stroke="#2a1f1a" stroke-width="0.6"/>
<text x="418.00" y="34.20" font-size="12.4" text-anchor="start" fill="#231f20" stroke="#231f20" stroke-width="0.2" font-weight="normal" font-style="normal" >Ir (ppb)</text>
<circle cx="505.00" cy="30.00" r="2.9" fill="#e0531f" stroke="#2a1f1a" stroke-width="0.6"/>
<text x="512.60" y="34.20" font-size="12.4" text-anchor="start" fill="#231f20" stroke="#231f20" stroke-width="0.2" font-weight="normal" font-style="normal" >Pt (ppb)</text>
<text x="640.50" y="34.20" font-size="12.2" text-anchor="middle" fill="#231f20" stroke="#231f20" stroke-width="0.2" font-weight="normal" font-style="normal" >Os/Ir</text>
<path d="M307.60,424.30L310.90,427.60L307.60,430.90L304.30,427.60Z" fill="#f8b82a" stroke="#2a1f1a" stroke-width="0.6"/>
<text x="315.60" y="432.20" font-size="12.3" text-anchor="start" fill="#231f20" stroke="#231f20" stroke-width="0.2" font-weight="normal" font-style="normal" >Re (ppb)</text>
<path d="M405.40,424.30L408.70,427.60L405.40,430.90L402.10,427.60Z" fill="#f8b82a" stroke="#2a1f1a" stroke-width="0.6"/>
<text x="413.00" y="432.20" font-size="12.3" text-anchor="start" fill="#231f20" stroke="#231f20" stroke-width="0.2" font-weight="normal" font-style="normal" >Ru (ppb)</text>
<path d="M509.40,424.30L512.70,427.60L509.40,430.90L506.10,427.60Z" fill="#f8b82a" stroke="#2a1f1a" stroke-width="0.6"/>
<text x="516.60" y="432.20" font-size="12.3" text-anchor="start" fill="#231f20" stroke="#231f20" stroke-width="0.2" font-weight="normal" font-style="normal" >Pd (ppb)</text>
<text transform="translate(256.3,147.5) rotate(-90)" font-size="9.3" fill="#231f20" stroke="#231f20" stroke-width="0.2"><tspan font-size="4.9" dy="-3.6">187</tspan><tspan dy="3.6">Os/</tspan><tspan font-size="4.9" dy="-3.6">188</tspan><tspan dy="3.6">Os = 0.4</tspan></text>
</svg>
</body></html>
